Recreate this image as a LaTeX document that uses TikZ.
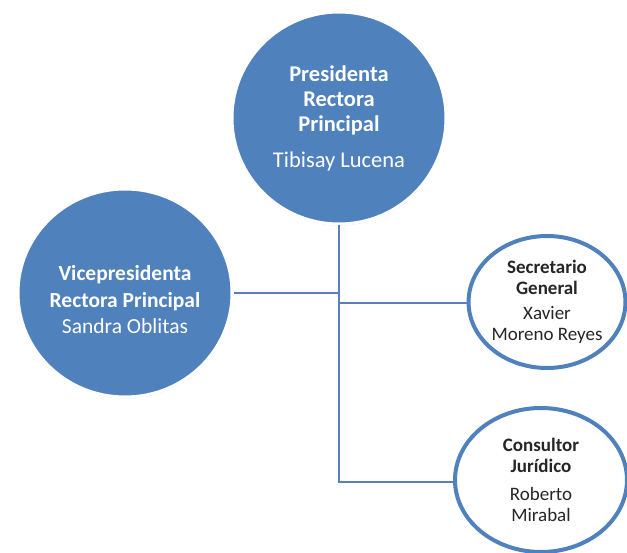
\documentclass[tikz,border=0pt]{standalone}
\usepackage{fontspec}
\setmainfont{Carlito}
\usetikzlibrary{shapes.geometric,shadows}
\definecolor{ublue}{HTML}{4F81BD}
\definecolor{lineblue}{HTML}{5A7FBF}
\definecolor{txtdark}{HTML}{262626}
\begin{document}
\begin{tikzpicture}[x=1pt,y=-1pt,
  bigc/.style={ellipse, fill=ublue, draw=white, line width=3pt, inner sep=0pt, align=center, text=white,
    drop shadow={shadow xshift=0.5pt, shadow yshift=-1.5pt, opacity=0.25}},
  smallc/.style={ellipse, fill=white, draw=ublue, line width=4pt, inner sep=0pt, align=center, text=txtdark,
    drop shadow={shadow xshift=0.5pt, shadow yshift=-1.5pt, opacity=0.25}},
  bigtext/.style={inner sep=0pt, align=center, text=white},
  conn/.style={draw=lineblue, line width=2.5pt}]
\useasboundingbox (0,0) rectangle (627,553);
\clip (0,0) rectangle (627,553);

\node[bigc, minimum width=214pt, minimum height=212pt, font=\fontsize{22.5}{25}\selectfont] (pres) at (339,118)
  {\textbf{Presidenta}\\ \textbf{Rectora}\\ \textbf{Principal}\\[11pt] Tibisay Lucena};

\node[bigc, minimum width=214pt, minimum height=208pt] (vice) at (125,293) {};
\node[bigtext, font=\fontsize{21.5}{26.5}\selectfont] (vicet) at (125,300)
  {\textbf{Vicepresidenta}\\ \textbf{Rectora Principal}\\ Sandra Oblitas};

\node[smallc, minimum width=156pt, minimum height=132pt, font=\fontsize{19}{21}\selectfont] (sec) at (547,302)
  {\textbf{Secretario}\\ \textbf{General}\\[4pt] Xavier\\ Moreno Reyes};

\node[smallc, minimum width=172pt, minimum height=144pt, font=\fontsize{19}{21.5}\selectfont] (cons) at (541,480)
  {\textbf{Consultor}\\ \textbf{Jurídico}\\[6pt] Roberto\\ Mirabal};

\coordinate (j1) at (339,293);
\coordinate (j2) at (339,303);
\coordinate (jb) at (339,482);

\draw[conn] (pres.south) -- (jb) -- (jb -| cons.west);
\draw[conn] (vice.east) -- (j1);
\draw[conn] (j2) -- (j2 -| sec.west);
\end{tikzpicture}
\end{document}
